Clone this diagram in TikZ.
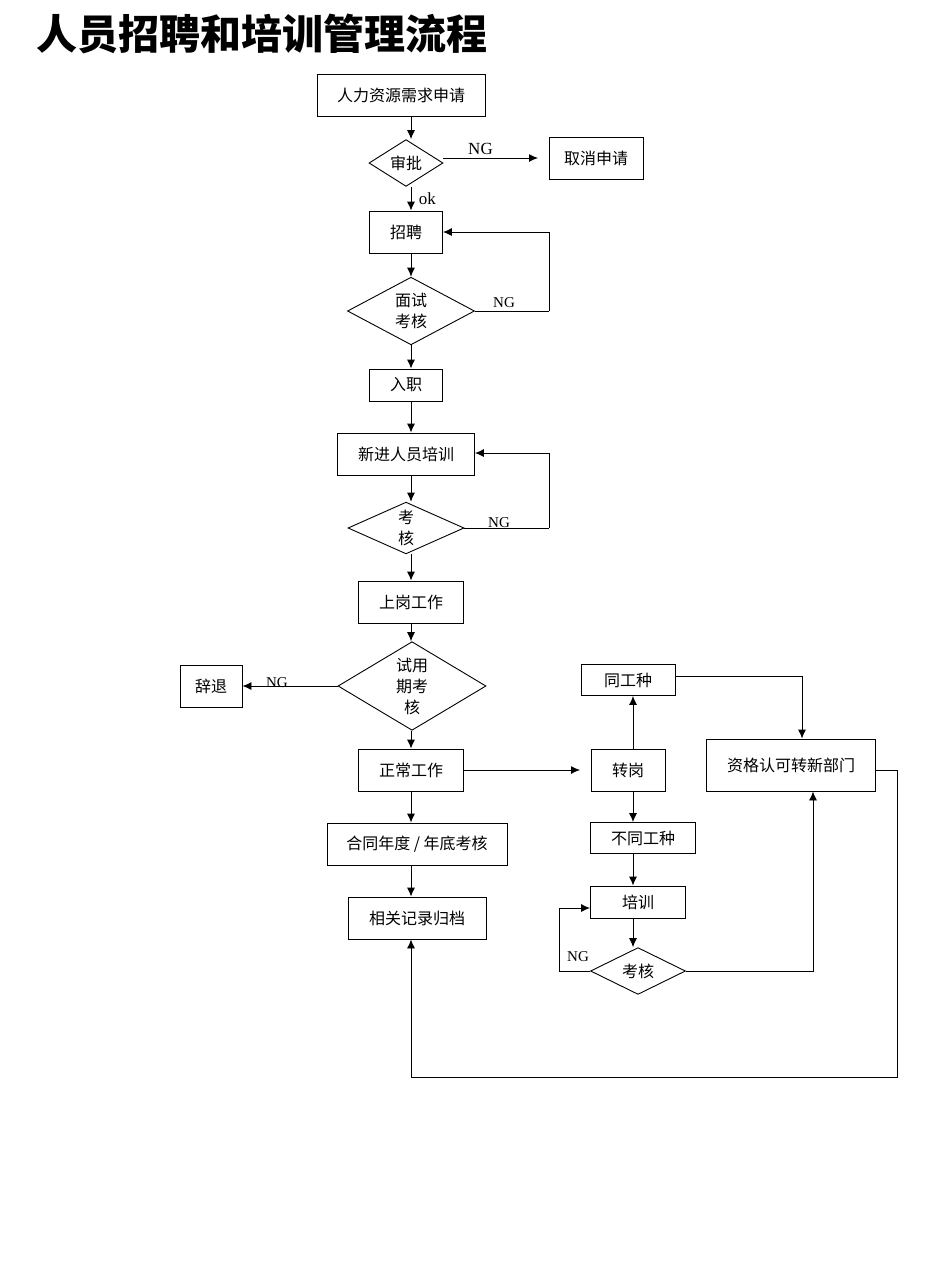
\documentclass[tikz,border=0pt]{standalone}
\usepackage{fontspec}
\setmainfont{Liberation Serif}
\newfontfamily\cjk{Noto Sans CJK SC}
\usetikzlibrary{shapes.geometric,arrows.meta}
\begin{document}
\begin{tikzpicture}[x=1pt,y=-1pt,
  box/.style={draw,line width=0.9pt,minimum height=42pt,inner sep=0pt,font=\cjk\fontsize{16}{21}\selectfont,align=center},
  dia/.style={draw,diamond,line width=0.9pt,inner sep=0pt,font=\cjk\fontsize{16}{21}\selectfont,align=center},
  ar/.style={line width=0.9pt,-{Latex[length=9pt,width=8pt]}},
  ln/.style={line width=0.9pt},
  lab/.style={font=\fontsize{15}{16}\selectfont}]
\useasboundingbox (0,0) rectangle (950,1267);
\node[anchor=west,font=\cjk\bfseries\fontsize{41}{44}\selectfont] (title) at (33,34) {人员招聘和培训管理流程};
\node[box,minimum width=168pt] (n1) at (401,95) {人力资源需求申请};
\node[dia,minimum width=74pt,minimum height=32pt] (d1) at (406,163) {审批};
\node[box,minimum width=94pt] (cancel) at (596,158) {取消申请};
\node[box,minimum width=73pt] (rec) at (406,232) {招聘};
\node[dia,minimum width=127pt,minimum height=52pt] (d2) at (411,311) {面试\\考核};
\node[box,minimum width=73pt,minimum height=32pt] (join) at (406,385) {入职};
\node[box,minimum width=137pt] (tr) at (406,454) {新进人员培训};
\node[dia,minimum width=116pt,minimum height=42pt] (d3) at (406,528) {考\\核};
\node[box,minimum width=105pt] (work) at (411,602) {上岗工作};
\node[dia,minimum width=148pt,minimum height=63pt] (d4) at (412,686) {试用\\期考\\核};
\node[box,minimum width=62pt] (quit) at (211,686) {辞退};
\node[box,minimum width=105pt] (norm) at (411,770) {正常工作};
\node[box,minimum width=180pt] (con) at (417,844) {合同年度 / 年底考核};
\node[box,minimum width=138pt] (arc) at (417,918) {相关记录归档};
\node[box,minimum width=94pt,minimum height=31pt] (same) at (628,680) {同工种};
\node[box,minimum width=74pt] (trans) at (628,770) {转岗};
\node[box,minimum width=105pt,minimum height=31pt] (diff) at (643,838) {不同工种};
\node[box,minimum width=95pt,minimum height=32pt] (tr2) at (638,902) {培训};
\node[dia,minimum width=95pt,minimum height=42pt] (d5) at (638,971) {考核};
\node[box,minimum width=169pt,minimum height=52pt] (qual) at (791,765) {资格认可转新部门};
\coordinate (xa) at (411,0);
\draw[ar] (n1.south -| xa) -- (d1.north -| xa);
\draw[ar] (d1.south -| xa) -- (rec.north -| xa) node[lab,font=\fontsize{17}{18}\selectfont,pos=0.5,right=4pt] {ok};
\draw[ar] (443,158) -- (538,158) node[lab,font=\fontsize{17}{18}\selectfont,midway,above,xshift=-10pt] {NG};
\draw[ar] (rec.south -| xa) -- (d2.north -| xa);
\draw[ln] (d2.east) -- (549,311); \draw[ar] (549,311) -- (549,232) -- (rec.east);
\node[lab] (ng2) at (504,303) {NG};
\draw[ar] (d2.south -| xa) -- (join.north -| xa);
\draw[ar] (join.south -| xa) -- (tr.north -| xa);
\draw[ar] (tr.south -| xa) -- (d3.north -| xa);
\draw[ln] (d3.east) -- (549,528); \draw[ar] (549,528) -- (549,453) -- (tr.east |- 0,453);
\node[lab] (ng3) at (499,523) {NG};
\draw[ar] (d3.south -| xa) -- (work.north -| xa);
\draw[ar] (work.south -| xa) -- (d4.north -| xa);
\draw[ar] (d4.west) -- (quit.east);
\node[lab] (ng4) at (277,683) {NG};
\draw[ar] (d4.south -| xa) -- (norm.north -| xa);
\coordinate (tp) at (580,770);
\draw[ar] (norm.east) -- (tp);
\draw[ar] (trans.north -| 633,0) -- (same.south -| 633,0);
\draw[ar] (trans.south -| 633,0) -- (diff.north -| 633,0);
\draw[ar] (diff.south -| 633,0) -- (tr2.north -| 633,0);
\draw[ar] (tr2.south -| 633,0) -- (d5.north -| 633,0);
\draw[ar] (d5.west) -- (559,971) -- (559,908) -- (tr2.west |- 0,908);
\node[lab] (ng5) at (578,957) {NG};
\draw[ar] (d5.east) -- (813,971) -- (qual.south -| 813,0);
\draw[ar] (same.east |- 0,676) -- (802,676) -- (qual.north -| 802,0);
\draw[ar] (qual.east |- 0,770) -- (897,770) -- (897,1077) -- (411,1077) -- (arc.south -| xa);
\draw[ar] (norm.south -| xa) -- (con.north -| xa);
\draw[ar] (con.south -| xa) -- (arc.north -| xa);
\end{tikzpicture}
\end{document}
